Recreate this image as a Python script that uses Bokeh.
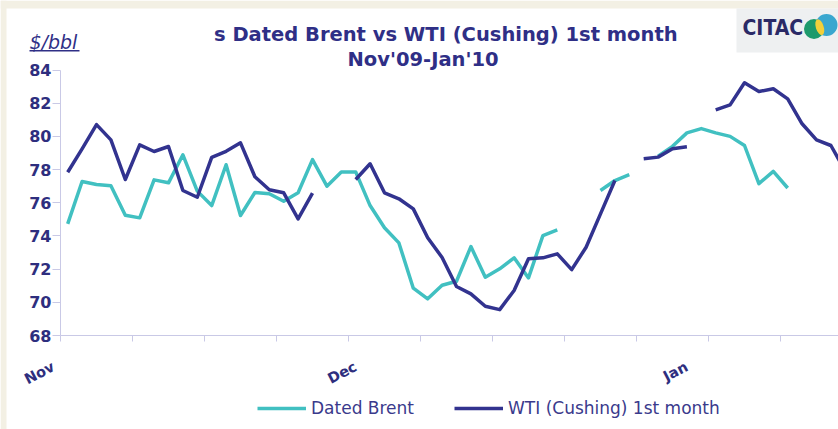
import numpy as np
from bokeh.plotting import figure
from bokeh.models import ColumnDataSource, Range1d, FixedTicker, Legend, LegendItem
from bokeh.core.properties import value
from bokeh.embed import file_html
from bokeh.resources import INLINE

# ---------------- data ----------------
# one category per trading day, Nov'09 - Jan'10
brent = [74.73, 77.28, 77.10, 77.02, 75.25, 75.09, 77.38, 77.20, 78.89, 76.70,
         75.83, 78.29, 75.23, 76.62, 76.54, 76.09, 76.60, 78.60, 77.00, 77.86,
         77.86, 75.83, 74.49, 73.58, 70.85, 70.21, 71.03, 71.27, 73.36, 71.51,
         72.02, 72.68, 71.47, 74.02, 74.37, None, None, 76.74, 77.34, 77.70,
         None, 78.80, 79.40, 80.21, 80.47, 80.21, 80.00, 79.45, 77.15, 77.89,
         76.89, None, None, None, None]
wti = [77.84, 79.25, 80.71, 79.79, 77.40, 79.49, 79.09, 79.39, 76.74, 76.33,
       78.74, 79.10, 79.61, 77.57, 76.78, 76.60, 75.03, 76.58, None, None,
       77.40, 78.35, 76.60, 76.24, 75.63, 73.89, 72.70, 70.95, 70.51, 69.76,
       69.56, 70.71, 72.62, 72.68, 72.92, 71.97, 73.32, 75.33, 77.34, None,
       78.65, 78.75, 79.25, 79.37, None, 81.60, 81.90, 83.23, 82.70, 82.87,
       82.26, 80.76, 79.79, 79.45, 77.90]
day = list(range(len(wti)))
month_labels = ["Nov", "Dec", "Jan"]
month_start = [0, 21, 44]
y_ticks = [68, 70, 72, 74, 76, 78, 80, 82, 84]
days_per_tick = 5

series_names = ["Dated Brent", "WTI (Cushing) 1st month"]
title_line1 = "s Dated Brent vs WTI (Cushing) 1st month"
title_line2 = "Nov'09-Jan'10"
unit_label = "$/bbl"
logo_text = "CITAC"

# ---------------- styles / layout (page pixels) ----------------
NAVY = "#2f2f86"
TEXT = "#2e2e7e"
BRENT_C = "#41c0c1"
WTI_C = "#32338f"
AXIS_C = "#c9c9e6"
PAGE_C = "#f3f0e4"
FONT = "DejaVu Sans"

W, H = 838, 429
PLOT_LEFT = 60         # page x of the y axis
PLOT_BOTTOM = 335      # page y of the x axis
Y_TOP_PX = 69.5        # page y of the top tick
PX_PER_DAY = 14.4
LABEL_SHIFT = 1.0      # month labels end a little before the month's first day
MID = 0.346            # text-box centre above the baseline, in em

x0 = -0.5              # left edge of the first day's slot
ppu = (PLOT_BOTTOM - Y_TOP_PX) / (y_ticks[-1] - y_ticks[0])


def dx(px):            # page x -> day units
    return x0 + (px - PLOT_LEFT) / PX_PER_DAY


def dy(py):            # page y -> $/bbl units
    return y_ticks[-1] - (py - Y_TOP_PX) / ppu


def mid(baseline, size):
    return baseline - MID * size


def nanify(v):
    return np.array([np.nan if x is None else x for x in v], dtype=float)


src = ColumnDataSource(dict(day=day, brent=nanify(brent), wti=nanify(wti)))

p = figure(width=W, height=H, output_backend="svg", toolbar_location=None,
           x_range=Range1d(dx(0), dx(W)), y_range=Range1d(dy(H), dy(0)),
           min_border=0)
p.outline_line_color = None
p.grid.visible = False

# page border strips
p.quad(left=[dx(0)], right=[dx(W)], top=[dy(0)], bottom=[dy(8)],
       fill_color=PAGE_C, line_color=None)
p.quad(left=[dx(0)], right=[dx(6)], top=[dy(0)], bottom=[dy(H)],
       fill_color=PAGE_C, line_color=None)

# y axis, placed on the plot's left edge (takes no side panel)
ya = p.yaxis[0]
ya.fixed_location = x0
ya.bounds = (y_ticks[0], y_ticks[-1])
ya.ticker = FixedTicker(ticks=y_ticks)
ya.axis_line_color = AXIS_C
ya.major_tick_line_color = AXIS_C
ya.major_tick_out = 8
ya.major_tick_in = 0
ya.minor_tick_line_color = None
ya.major_label_standoff = 1
ya.major_label_text_font = FONT
ya.major_label_text_font_style = "bold"
ya.major_label_text_font_size = "16px"
ya.major_label_text_color = TEXT

# x axis: week tick marks (minor ticks, no labels)
xa = p.xaxis[0]
xa.fixed_location = y_ticks[0]
xa.bounds = (x0, dx(W))
n_ticks = len(day) // days_per_tick + 1
xa.ticker = FixedTicker(ticks=[],
                        minor_ticks=[x0 + days_per_tick * k for k in range(n_ticks)])
xa.axis_line_color = AXIS_C
xa.major_tick_line_color = None
xa.major_tick_out = 0
xa.major_tick_in = 0
xa.minor_tick_line_color = AXIS_C
xa.minor_tick_out = 6
xa.minor_tick_in = 0

r_brent = p.line("day", "brent", source=src, line_color=BRENT_C, line_width=3.5,
                 line_join="round")
r_wti = p.line("day", "wti", source=src, line_color=WTI_C, line_width=3.5,
               line_join="round")

# rotated month labels
p.text(x=[m - LABEL_SHIFT for m in month_start], y=[dy(365)] * len(month_start),
       text=month_labels, angle=0.48, text_align="right", text_baseline="middle",
       text_font=value(FONT), text_font_style="bold", text_font_size="14.5px",
       text_color=TEXT)

# titles and unit
p.text(x=[dx(213.5)], y=[dy(mid(41, 19.5))], text=[title_line1],
       text_font=value(FONT), text_font_style="bold", text_font_size="19.5px",
       text_color=NAVY, text_baseline="middle")
p.text(x=[dx(347)], y=[dy(mid(65.5, 19.5))], text=[title_line2],
       text_font=value(FONT), text_font_style="bold", text_font_size="19.5px",
       text_color=NAVY, text_baseline="middle")
p.text(x=[dx(29)], y=[dy(mid(48, 19))], text=[unit_label], text_font=value(FONT),
       text_font_style="italic", text_font_size="19px", text_color=NAVY,
       text_baseline="middle")
p.quad(left=[dx(29)], right=[dx(79)], top=[dy(49.5)], bottom=[dy(51)],
       fill_color=NAVY, line_color=None)

# logo
p.quad(left=[dx(736)], right=[dx(W)], top=[dy(8)], bottom=[dy(52)],
       fill_color="#eef0f1", line_color=None)
p.text(x=[dx(742)], y=[dy(mid(35, 21))], text=[logo_text],
       text_font=value("DejaVu Sans Condensed"), text_font_style="bold",
       text_font_size="21px", text_color="#2a2a66", text_baseline="middle")
p.circle(x=[dx(826)], y=[dy(24.5)], radius=11, radius_units="screen",
         fill_color="#3aa7cf", line_color=None)
p.circle(x=[dx(813.5)], y=[dy(28.5)], radius=10, radius_units="screen",
         fill_color="#1d9a6c", line_color=None)
p.ellipse(x=[dx(819.3)], y=[dy(26.7)], width=7.9, height=16.4,
          width_units="screen", height_units="screen", angle=0.31,
          fill_color="#f2d03b", line_color=None)

legend = Legend(items=[LegendItem(label=series_names[0], renderers=[r_brent]),
                       LegendItem(label=series_names[1], renderers=[r_wti])],
                orientation="horizontal", location=(257, 11),
                glyph_width=49, glyph_height=20, label_standoff=5, spacing=40,
                padding=0, margin=0, border_line_color=None,
                background_fill_alpha=0, label_text_font=FONT,
                label_text_font_size="17px", label_text_color="#3a3a8c")
p.add_layout(legend, "center")

open("out.html", "w").write(file_html(p, INLINE))
